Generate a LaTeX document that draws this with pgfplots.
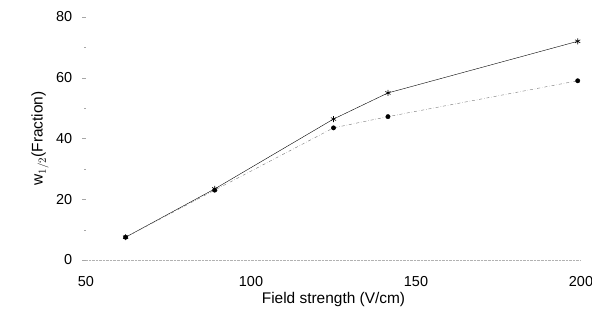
\documentclass[border=0pt]{standalone}
\usepackage{fontspec}
\setmainfont{Liberation Sans}
\usepackage{pgfplots}
\pgfplotsset{compat=1.18}
\begin{document}
\fontsize{14}{16}\selectfont
\begin{tikzpicture}
\begin{axis}[
  name=ax,
  scale only axis,
  width=495bp, height=243bp,
  xmin=50, xmax=200, ymin=0, ymax=80,
  axis x line=bottom,
  axis y line=left,
  x axis line style={gray!60, densely dotted, -},
  y axis line style={draw=none},
  xtick={50,100,150,200},
  ytick={0,20,40,60,80},
  minor ytick={10,30,50,70},
  xtick style={draw=none},
  ytick style={gray!70},
  major tick length=4bp, minor tick length=2bp,
  tick align=outside,
  /pgf/number format/assume math mode=true,
  ticklabel style={font=\fontsize{14.5}{16}\selectfont},
  xticklabel style={yshift=-8bp},
  yticklabel style={xshift=-5bp},
  xlabel={Field strength (V/cm)},
  ylabel={w$_{1/2}$(Fraction)},
  label style={font=\fontsize{15.5}{17}\selectfont},
  xlabel style={yshift=4bp},
  ylabel style={yshift=-2bp},
  clip=false,
]
\addplot[black, thin, mark=asterisk, mark size=3bp, mark options={solid, semithick}] coordinates {
  (62,7.5) (89,23.4) (125,46.4) (141.5,55) (199,72)
};
\addplot[black!55, thin, dash dot, mark=*, mark size=2.2bp, mark options={solid, black}] coordinates {
  (62,7.5) (89,23) (125,43.5) (141.5,47.2) (199,59)
};
\end{axis}
\pgfresetboundingbox
\path ([shift={(-86bp,-64bp)}]ax.south west) rectangle ([shift={(11bp,17bp)}]ax.north east);
\end{tikzpicture}
\end{document}
